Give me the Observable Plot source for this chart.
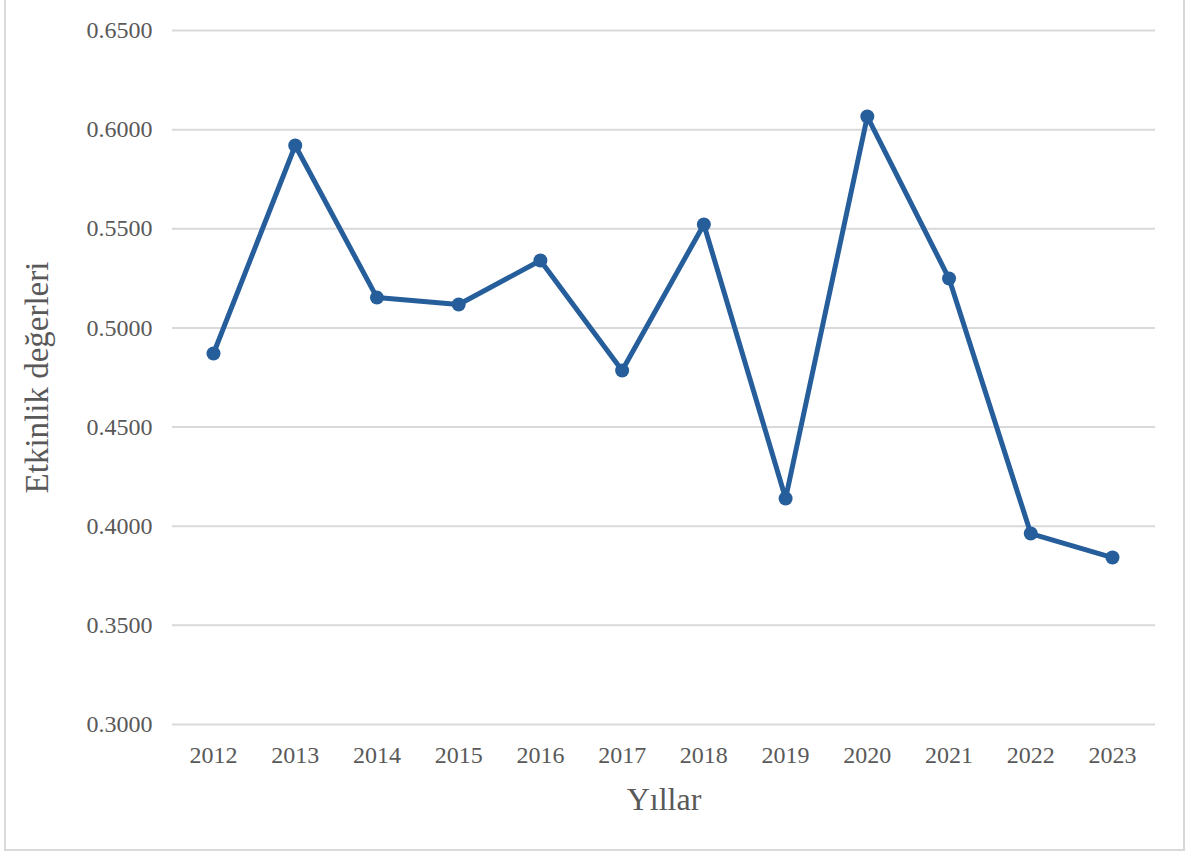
<!DOCTYPE html>
<html>
<head>
<meta charset="utf-8">
<script src="https://cdn.jsdelivr.net/npm/d3@7"></script>
<script src="https://cdn.jsdelivr.net/npm/@observablehq/plot@0.6"></script>
<style>
  html, body { margin: 0; padding: 0; background: #fff; overflow: hidden; }
  #wrap { position: relative; width: 1192px; height: 854px; }
  #frame { position: absolute; left: 4px; top: -2px; width: 1181px; height: 853px; border: 2px solid #d9d9d9; box-sizing: border-box; pointer-events: none; }
  svg { display: block; }
  svg text { font-family: 'Liberation Serif', 'Times New Roman', serif !important; }
</style>
</head>
<body>
<div id="wrap"><div id="frame"></div></div>
<script>
const years = ["2012","2013","2014","2015","2016","2017","2018","2019","2020","2021","2022","2023"];
const values = [0.4871, 0.5920, 0.5153, 0.5118, 0.5340, 0.4785, 0.5522, 0.4140, 0.6066, 0.5249, 0.3963, 0.3842];
const yTicks = [0.30, 0.35, 0.40, 0.45, 0.50, 0.55, 0.60, 0.65];

const data = years.map((y, i) => ({year: y, value: values[i]}));
const lineColor = "#255e9b";
const font = "'Liberation Serif', 'Times New Roman', serif";

const chart = Plot.plot({
  width: 1192,
  height: 854,
  marginLeft: 172,
  marginRight: 37,
  marginTop: 30,
  marginBottom: 130,
  style: {fontFamily: font, fontSize: "24px", color: "#595959", background: "transparent"},
  x: {type: "point", domain: years, range: [213, 1112], padding: 0, round: false, label: null},
  y: {domain: [0.30, 0.65], label: null},
  marks: [
    Plot.gridY(yTicks, {stroke: "#d9d9d9", strokeOpacity: 1, strokeWidth: 2}),
    Plot.axisY(yTicks, {tickSize: 0, tickPadding: 20, tickFormat: d => d.toFixed(4), fill: "#595959", fontSize: 24, fontFamily: font}),
    Plot.axisX(years, {tickSize: 0, tickPadding: 21, fill: "#595959", fontSize: 24, fontFamily: font}),
    Plot.line(data, {x: "year", y: "value", stroke: lineColor, strokeWidth: 5, strokeLinejoin: "round", strokeLinecap: "round"}),
    Plot.dot(data, {x: "year", y: "value", fill: lineColor, r: 7}),
    Plot.text(["Yıllar"], {frameAnchor: "bottom", lineAnchor: "middle", textAnchor: "middle", dy: 75, fontSize: 32, fill: "#595959", fontFamily: font}),
    Plot.text(["Etkinlik değerleri"], {frameAnchor: "left", lineAnchor: "middle", textAnchor: "middle", dx: -135, rotate: -90, fontSize: 33, fill: "#595959", fontFamily: font})
  ]
});
document.getElementById("wrap").appendChild(chart);
</script>
</body>
</html>
